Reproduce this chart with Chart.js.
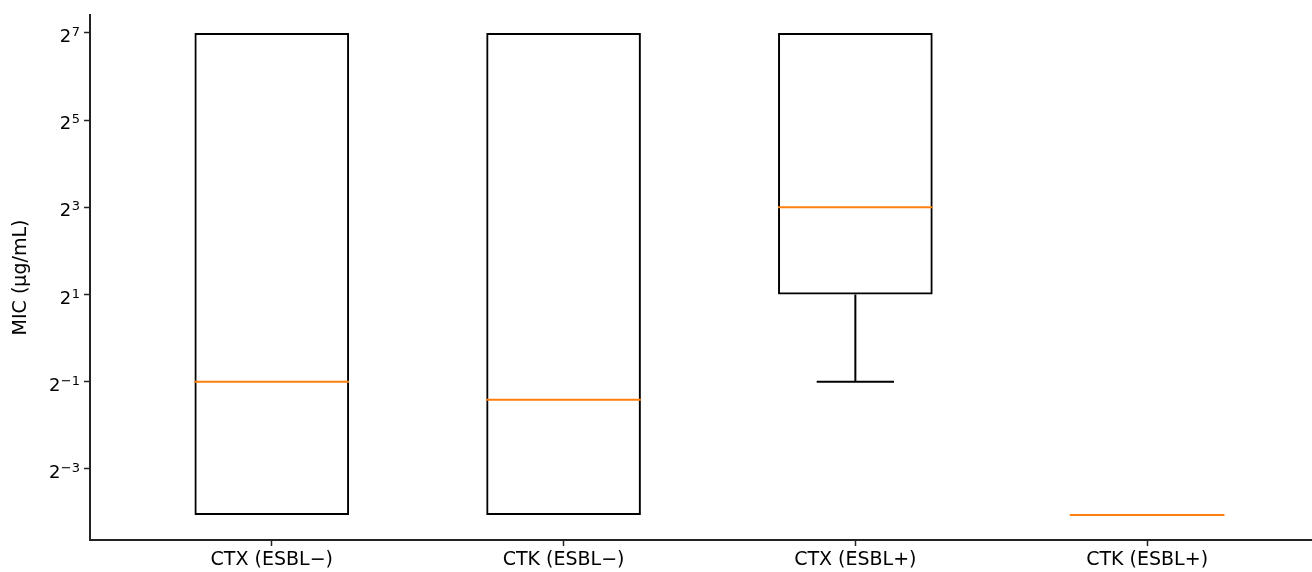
<!DOCTYPE html>
<html>
<head>
<meta charset="utf-8">
<script src="https://cdn.jsdelivr.net/npm/chart.js@4"></script>
<style>
  html, body { margin: 0; padding: 0; background: #fff; }
</style>
</head>
<body>
<canvas id="mic" width="1312" height="572"></canvas>
<script>
const categories = ["CTX (ESBL\u2212)", "CTK (ESBL\u2212)", "CTX (ESBL+)", "CTK (ESBL+)"];
const positions = [1, 2, 3, 4];
const whiskerLow = [0.06, 0.06, 0.5, 0.06];
const q1 = [0.06, 0.06, 2, 0.06];
const medians = [0.5, 0.375, 8, 0.06];
const q3 = [128, 128, 128, 0.06];
const whiskerHigh = [128, 128, 128, 0.06];
const yTickExponents = [-3, -1, 1, 3, 5, 7];

const FONT = "'DejaVu Sans', sans-serif";

// whiskers, caps and medians, placed with the chart's own scales
const boxExtras = {
  id: "boxExtras",
  afterDatasetsDraw(chart) {
    const ctx = chart.ctx;
    const y = chart.scales.y;
    const meta = chart.getDatasetMeta(0);
    ctx.save();
    ctx.lineCap = "butt";
    meta.data.forEach((bar, i) => {
      const cx = bar.x;
      const half = bar.width / 2;
      const capHalf = half / 2;
      const pLow = y.getPixelForValue(whiskerLow[i]);
      const pQ1 = y.getPixelForValue(q1[i]);
      const pQ3 = y.getPixelForValue(q3[i]);
      const pHigh = y.getPixelForValue(whiskerHigh[i]);
      const pMed = y.getPixelForValue(medians[i]);
      ctx.strokeStyle = "#000";
      ctx.lineWidth = 2;
      ctx.beginPath();
      if (whiskerLow[i] < q1[i]) {
        ctx.moveTo(cx, pQ1); ctx.lineTo(cx, pLow);
        ctx.moveTo(cx - capHalf, pLow); ctx.lineTo(cx + capHalf, pLow);
      }
      if (whiskerHigh[i] > q3[i]) {
        ctx.moveTo(cx, pQ3); ctx.lineTo(cx, pHigh);
        ctx.moveTo(cx - capHalf, pHigh); ctx.lineTo(cx + capHalf, pHigh);
      }
      ctx.stroke();
      ctx.strokeStyle = "#ff7f0e";
      ctx.beginPath();
      ctx.moveTo(cx - half, pMed); ctx.lineTo(cx + half, pMed);
      ctx.stroke();
    });
    ctx.restore();
  }
};

// y tick labels as 2 with a raised exponent
const powerLabels = {
  id: "powerLabels",
  afterDraw(chart) {
    const ctx = chart.ctx;
    const y = chart.scales.y;
    const right = y.right - 10;
    ctx.save();
    ctx.fillStyle = "#000";
    yTickExponents.forEach(e => {
      const py = y.getPixelForValue(Math.pow(2, e));
      const expText = (e < 0 ? "\u2212" : "") + Math.abs(e);
      ctx.font = "13px " + FONT;
      const ew = ctx.measureText(expText).width;
      ctx.textAlign = "right";
      ctx.textBaseline = "alphabetic";
      ctx.fillText(expText, right, py + 3);
      ctx.font = "18px " + FONT;
      ctx.fillText("2", right - ew - 0.5, py + 9);
    });
    ctx.restore();
  }
};

new Chart(document.getElementById("mic"), {
  type: "bar",
  data: {
    datasets: [{
      data: positions.map((x, i) => ({ x: x, y: [q1[i], q3[i]] })),
      backgroundColor: "rgba(0,0,0,0)",
      borderColor: "#000",
      borderWidth: 2,
      borderSkipped: false,
      barPercentage: 0.53,
      categoryPercentage: 1
    }]
  },
  options: {
    responsive: false,
    animation: false,
    events: [],
    layout: { padding: { top: 15, left: 0, right: 0, bottom: 0 } },
    plugins: {
      legend: { display: false },
      tooltip: { enabled: false }
    },
    scales: {
      x: {
        type: "linear",
        min: 0.377,
        max: 4.565,
        offset: false,
        afterBuildTicks: s => { s.ticks = positions.map(v => ({ value: v })); },
        afterFit: s => { s.height = 32; },
        ticks: {
          autoSkip: false,
          maxRotation: 0,
          padding: 3,
          color: "#000",
          font: { family: FONT, size: 19 },
          callback: v => categories[positions.indexOf(v)]
        },
        grid: { offset: false, drawOnChartArea: false, drawTicks: true, tickLength: 6, tickColor: "#222", tickWidth: 1.5 },
        border: { display: true, color: "#222", width: 2 }
      },
      y: {
        type: "logarithmic",
        min: Math.pow(2, -4.63),
        max: Math.pow(2, 7.41),
        afterBuildTicks: s => { s.ticks = yTickExponents.map(e => ({ value: Math.pow(2, e) })); },
        afterFit: s => { s.width = 90; },
        ticks: { autoSkip: false, callback: () => "", font: { family: FONT, size: 18 } },
        grid: { drawOnChartArea: false, drawTicks: true, tickLength: 6, tickColor: "#222", tickWidth: 1.5 },
        border: { display: true, color: "#222", width: 2 },
        title: {
          display: true,
          text: "MIC (\u00b5g/mL)",
          color: "#000",
          font: { family: FONT, size: 19 },
          padding: { top: 10, bottom: 0 }
        }
      }
    }
  },
  plugins: [boxExtras, powerLabels]
});
</script>
</body>
</html>
